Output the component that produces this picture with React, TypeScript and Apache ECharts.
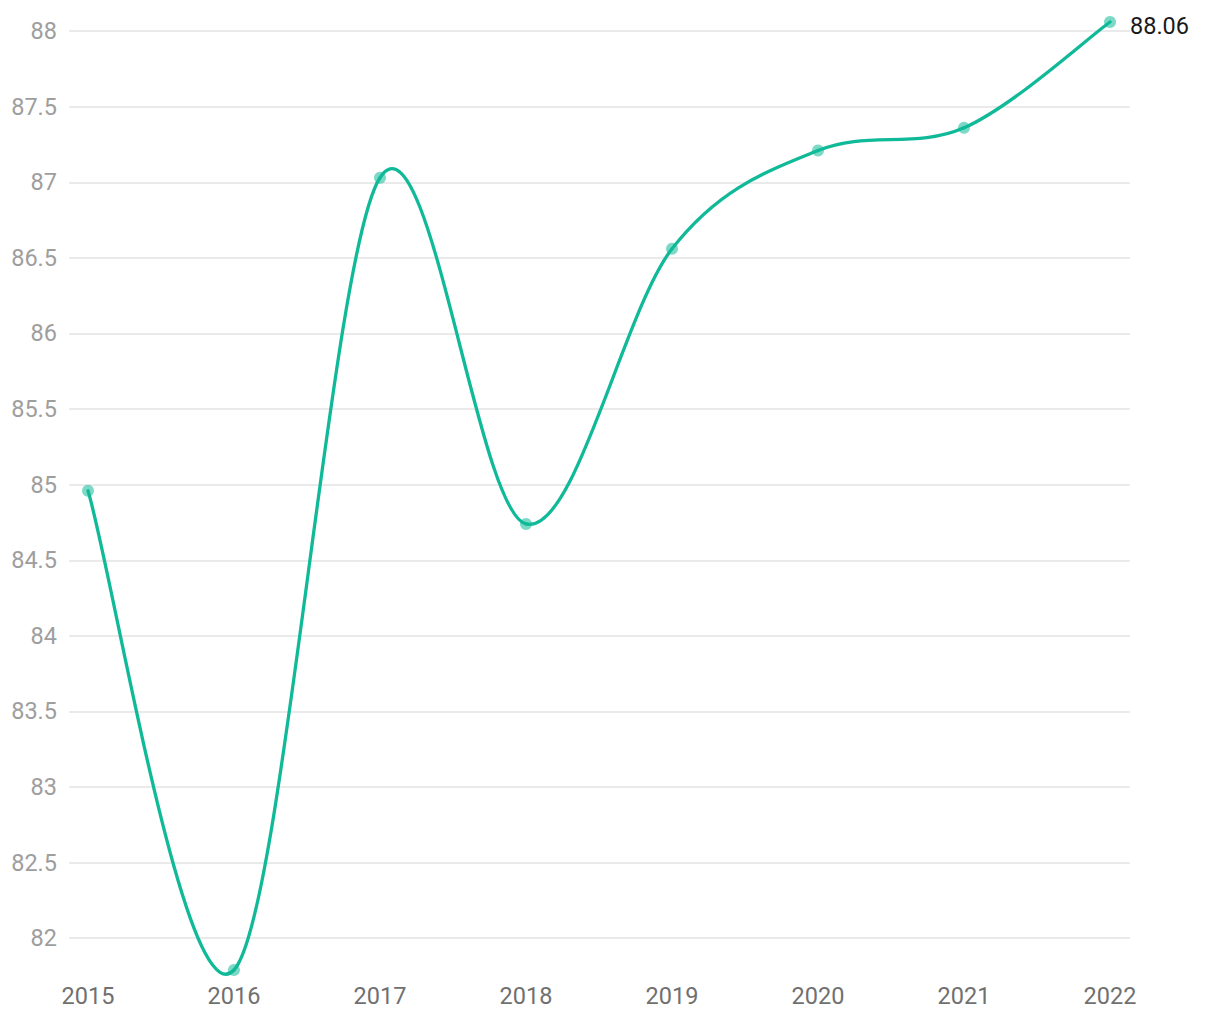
import React, { useEffect, useRef } from "react";
import * as echarts from "echarts";

const years = ["2015", "2016", "2017", "2018", "2019", "2020", "2021", "2022"];
const values = [84.96, 81.79, 87.03, 84.74, 86.56, 87.21, 87.36, 88.06];
const yMin = 81.79;
const yMax = 88.06;
const yStep = 0.5;

const LINE_COLOR = "#10b998";

export default function App() {
  const ref = useRef<HTMLDivElement>(null);
  useEffect(() => {
    document.body.style.margin = "0";
    const chart = echarts.init(ref.current!, undefined, { renderer: "svg" });
    const font = "Roboto";
    const n = values.length;
    chart.setOption({
      animation: false,
      backgroundColor: "#ffffff",
      grid: [
        { left: 69, right: 90, top: 22, bottom: 50 },
        { left: 88, right: 110, top: 22, bottom: 50 },
      ],
      xAxis: [
        { type: "value", gridIndex: 0, show: false, min: 0, max: 1 },
        {
          type: "category",
          gridIndex: 1,
          data: years,
          boundaryGap: false,
          axisLine: { show: false },
          axisTick: { show: false },
          splitLine: { show: false },
          axisLabel: { color: "#707070", fontSize: 23.5, fontFamily: font, margin: 14 },
        },
      ],
      yAxis: [
        {
          type: "value",
          gridIndex: 0,
          min: yMin,
          max: yMax,
          minInterval: yStep,
          maxInterval: yStep,
          axisLine: { show: false },
          axisTick: { show: false },
          axisLabel: {
            color: "#9e9e9e",
            fontSize: 23.5,
            fontFamily: font,
            margin: 12,
            showMinLabel: false,
            showMaxLabel: false,
            formatter: (v: number) =>
              Math.abs(v / yStep - Math.round(v / yStep)) < 1e-6 ? String(+v.toFixed(1)) : "",
          },
          splitLine: {
            show: true,
            showMinLine: false,
            showMaxLine: false,
            lineStyle: { color: "#e3e3e3", width: 1.5 },
          },
        },
        {
          type: "value",
          gridIndex: 1,
          min: yMin,
          max: yMax,
          show: false,
          splitLine: { show: false },
        },
      ],
      series: [
        {
          type: "custom",
          xAxisIndex: 1,
          yAxisIndex: 1,
          clip: false,
          z: 1,
          data: values.map((v, i) => [i, v]),
          encode: { x: 0, y: 1 },
          renderItem: (params: any, api: any) => {
            const i = params.dataIndex;
            if (i >= n - 1) return null;
            const pt = (j: number) => api.coord([j, values[j]]);
            const p0 = pt(Math.max(0, i - 1));
            const p1 = pt(i);
            const p2 = pt(i + 1);
            const p3 = pt(Math.min(n - 1, i + 2));
            return {
              type: "bezierCurve",
              shape: {
                x1: p1[0],
                y1: p1[1],
                cpx1: p1[0] + (p2[0] - p0[0]) / 6,
                cpy1: p1[1] + (p2[1] - p0[1]) / 6,
                cpx2: p2[0] - (p3[0] - p1[0]) / 6,
                cpy2: p2[1] - (p3[1] - p1[1]) / 6,
                x2: p2[0],
                y2: p2[1],
              },
              style: { fill: "none", stroke: LINE_COLOR, lineWidth: 3.3, lineCap: "round" },
            };
          },
        },
        {
          type: "line",
          xAxisIndex: 1,
          yAxisIndex: 1,
          data: values,
          clip: false,
          z: 2,
          symbol: "circle",
          symbolSize: 12,
          showSymbol: true,
          lineStyle: { opacity: 0, width: 0 },
          itemStyle: { color: "rgba(16,185,152,0.55)" },
          endLabel: {
            show: true,
            color: "#1a1a1a",
            fontSize: 23.5,
            fontFamily: font,
            distance: 20,
            offset: [0, 4],
            formatter: (p: any) => String(p.value),
          },
        },
      ],
    });
    return () => chart.dispose();
  }, []);
  return <div ref={ref} style={{ width: 1220, height: 1020 }} />;
}
